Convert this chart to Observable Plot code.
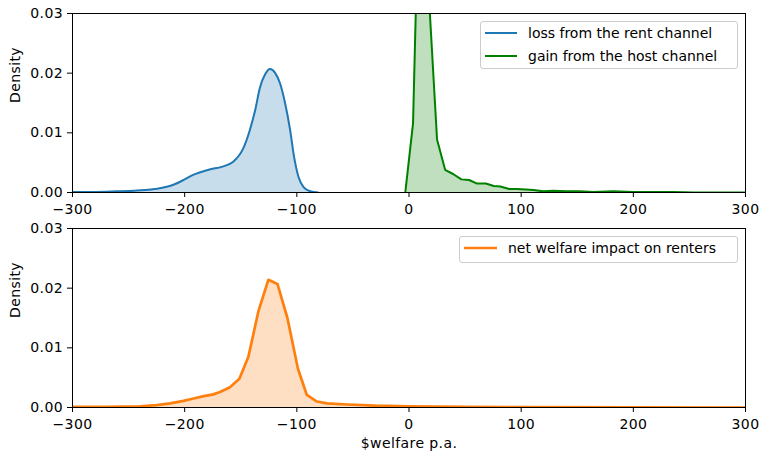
<!DOCTYPE html>
<html><head><meta charset="utf-8">
<script src="https://cdn.jsdelivr.net/npm/d3@7"></script>
<script src="https://cdn.jsdelivr.net/npm/@observablehq/plot@0.6"></script>
<style>
body{margin:0;background:#fff;font-family:"DejaVu Sans",sans-serif;}
#wrap{position:relative;width:762px;height:453px;background:#fff;}
#wrap > svg{display:block}
#wrap svg text{letter-spacing:0.4px}
.legend{position:absolute;background:rgba(255,255,255,0.8);border:1px solid #cccccc;border-radius:3px;box-sizing:border-box;font:14px "DejaVu Sans",sans-serif;letter-spacing:0px;color:#000;}
.legend .row{position:absolute;left:0;height:0;}
.legend .row svg{position:absolute;left:4px;top:-2px;overflow:visible}
.legend .row span{position:absolute;white-space:nowrap;transform:translateY(-52%);}
</style>
</head><body>
<div id="wrap"></div>
<script>
// ---- data ----
const xTicks = [-300, -200, -100, 0, 100, 200, 300];
const yTicks = [0, 0.01, 0.02, 0.03];

const seriesNames = ["loss from the rent channel", "gain from the host channel", "net welfare impact on renters"];
const seriesColors = ["#1f77b4", "green", "#ff7f0e"];

const rentX = [-300,-280,-260,-245,-230,-220,-210,-200,-193,-186,-177,-167,-157,-148,-142,-137,-133,-128,-124,-119.5,-115,-110.5,-106,-102.5,-98.5,-94,-88,-81];
const rentY = [0.0001,0.0001,0.0002,0.0003,0.0005,0.0008,0.0013,0.0022,0.0029,0.0034,0.0039,0.0043,0.0051,0.0073,0.0104,0.0139,0.0175,0.0199,0.0207,0.0201,0.0183,0.0150,0.0105,0.0060,0.0026,0.0009,0.0002,0];

const hostX = [-3.2,3.6,10.6,17.7,25.0,32.2,39.3,46.7,53.6,60.7,68.5,75.6,81.5,89.3,96.4,104,111,119.6,128.6,140.5,152.4,164.3,182,200,218,236,254,271,300];
const hostY = [0.0002,0.0116,0.065,0.033,0.0089,0.0038,0.0031,0.0022,0.0021,0.0015,0.0015,0.0011,0.0010,0.0006,0.0006,0.0005,0.0004,0.0002,0.0003,0.0002,0.0002,0.0001,0.0002,0.0001,0.0001,0.0001,0,0,0];

const netX = [-300,-270,-240,-225,-213,-201,-192,-183,-174.5,-168.5,-159.6,-151.2,-143.2,-134.3,-125.4,-117.3,-108.4,-99,-91.1,-82.1,-73,-55,-30,0,50,100,200,300];
const netY = [0.0001,0.0001,0.0002,0.0004,0.0007,0.0011,0.0015,0.0019,0.0022,0.0026,0.0034,0.0048,0.0085,0.0161,0.0214,0.0207,0.0150,0.0065,0.0021,0.0010,0.0007,0.0005,0.0003,0.0002,0.0001,0.00005,0.00002,0];

const xLabel = "$welfare p.a.";
const yLabel = "Density";

// ---- build ----
const toRows = (xs, ys) => xs.map((x, i) => ({x, y: ys[i]}));
const rent = toRows(rentX, rentY);
const host = toRows(hostX, hostY);
const net = toRows(netX, netY);

const fmtX = d => d < 0 ? "\u2212" + Math.abs(d) : String(d);
const fmtY = d3.format(".2f");
const FS = 14;

function panel(height, marginBottom, marks, withXLabel) {
  const extra = [];
  if (withXLabel) extra.push(Plot.text([xLabel], {frameAnchor: "bottom", text: d => d, dy: 40, fill: "black", fontSize: FS}));
  return Plot.plot({
    width: 762, height,
    marginLeft: 72, marginRight: 17, marginTop: 13, marginBottom,
    x: {domain: [-300, 300], label: null},
    y: {domain: [0, 0.03], label: null},
    style: {fontFamily: "DejaVu Sans", fontSize: FS + "px", color: "black", background: "white", overflow: "visible"},
    marks: [
      ...marks,
      Plot.frame({stroke: "black", strokeWidth: 1}),
      Plot.axisX({ticks: xTicks, tickFormat: fmtX, tickSize: 5, tickPadding: 7, label: null, fontSize: FS}),
      Plot.axisY({ticks: yTicks, tickFormat: fmtY, tickSize: 5, tickPadding: 4.5, label: null, fontSize: FS}),
      Plot.text([yLabel], {frameAnchor: "left", text: d => d, rotate: -90, dx: -57, fill: "black", fontSize: FS}),
      ...extra
    ]
  });
}

const topPanel = panel(215, 23, [
  Plot.areaY(rent, {x: "x", y: "y", fill: seriesColors[0], fillOpacity: 0.25, curve: "monotone-x", clip: true}),
  Plot.lineY(rent, {x: "x", y: "y", stroke: seriesColors[0], strokeWidth: 2, curve: "monotone-x", clip: true}),
  Plot.areaY(host, {x: "x", y: "y", fill: seriesColors[1], fillOpacity: 0.25, clip: true}),
  Plot.lineY(host, {x: "x", y: "y", stroke: seriesColors[1], strokeWidth: 2, clip: true})
], false);

const bottomPanel = panel(238, 46, [
  Plot.areaY(net, {x: "x", y: "y", fill: seriesColors[2], fillOpacity: 0.25, clip: true}),
  Plot.lineY(net, {x: "x", y: "y", stroke: seriesColors[2], strokeWidth: 2.7, clip: true})
], true);

const wrap = document.getElementById("wrap");
wrap.appendChild(topPanel);
wrap.appendChild(bottomPanel);

function legend(left, topPx, width, height, items, swW, textLeft, rowGap, lw) {
  const box = document.createElement("div");
  box.className = "legend";
  Object.assign(box.style, {left: left + "px", top: topPx + "px", width: width + "px", height: height + "px"});
  items.forEach(([name, color], i) => {
    const row = document.createElement("div");
    row.className = "row";
    row.style.top = (11 + i * rowGap) + "px";
    row.innerHTML = `<svg width="${swW}" height="4"><line x1="0" x2="${swW}" y1="2" y2="2" stroke="${color}" stroke-width="${lw}"/></svg><span style="left:${textLeft}px">${name}</span>`;
    box.appendChild(row);
  });
  wrap.appendChild(box);
}
legend(480, 21, 258, 48, [[seriesNames[0], seriesColors[0]], [seriesNames[1], seriesColors[1]]], 32, 47, 23, 2);
legend(459, 236, 279, 27, [[seriesNames[2], seriesColors[2]]], 33, 48, 23, 2.7);
</script>
</body></html>
